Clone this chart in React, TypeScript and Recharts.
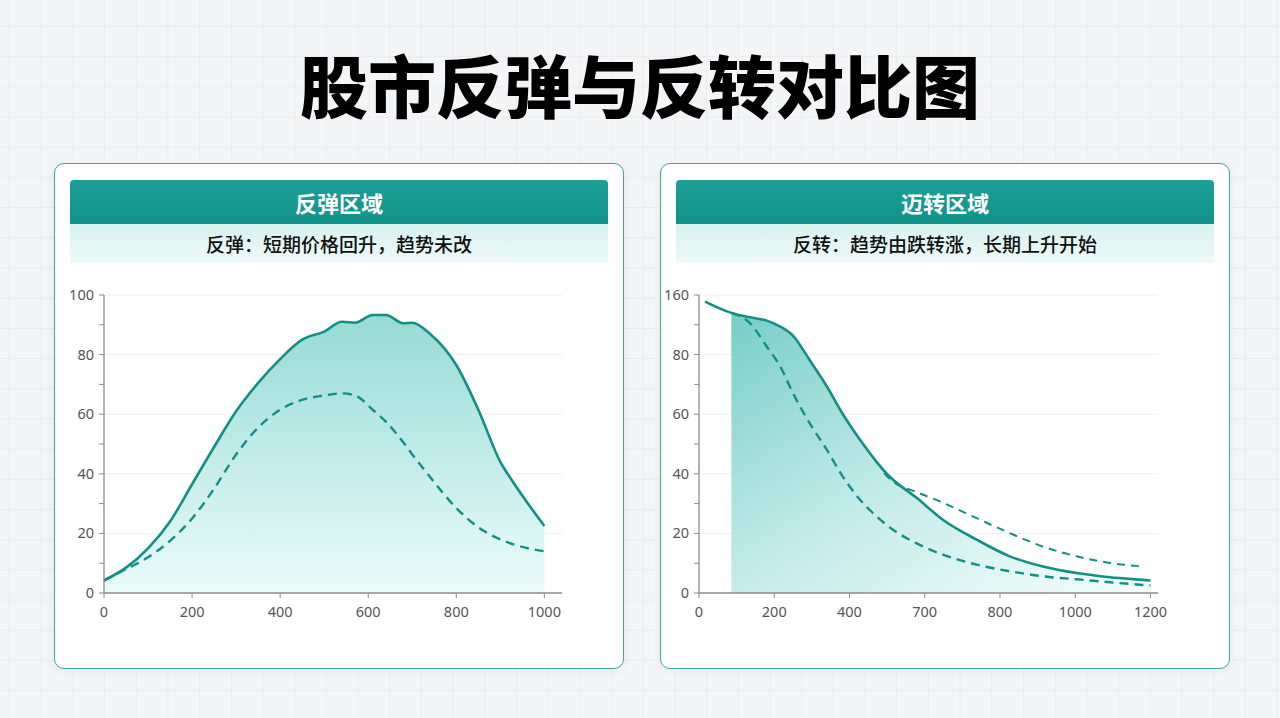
import { ComposedChart, Line, Area, XAxis, YAxis, CartesianGrid } from "recharts"

// 反弹区域 — x 轴 0..1000
const reboundX = [0, 50, 100, 150, 200, 250, 300, 350, 400, 450, 500, 540, 570, 610, 640, 680, 700, 740, 800, 850, 900, 930, 1000]
const reboundPrice = [4.2, 8.5, 15, 24, 36.5, 49, 61, 70.5, 78.5, 85, 87.7, 91, 90.7, 93.3, 93.3, 90.5, 90.7, 87, 76.5, 61.5, 44, 37, 22.5]
const reboundTrend = [4.2, 8, 12, 17.5, 25, 35, 46.5, 55.5, 61.5, 64.8, 66.3, 67, 66.3, 61.5, 57.5, 50.5, 46.5, 39, 28.5, 22, 18, 16.3, 14]
const reboundXTicks = [0, 200, 400, 600, 800, 1000]

// 迈转区域 — x 轴刻度等距排列，数值按刻度序号记录
const reversalX = [0.08, 0.43, 0.68, 0.9, 1.08, 1.25, 1.47, 1.7, 1.9, 2.14, 2.36, 2.46, 2.58, 2.88, 3.25, 3.69, 4.13, 4.57, 5.02, 5.46, 5.9, 6.0]
const reversalPrice = [97.8, 94, 92.5, 91.4, 89.4, 86.3, 78.2, 69.3, 60.5, 51.4, 44, 41, 38, 32.2, 24.4, 17.9, 12.3, 8.9, 6.7, 5.3, 4.4, 4.2]
const reversalFastDrop = [null, 94, 90.5, 82.7, 76, 67, 57, 48, 39.5, 31.3, 25.7, 23.5, 21.2, 16.8, 12.8, 9.5, 7.3, 5.6, 4.6, 3.6, 2.7, 2.5]
const reversalSlowDecay = [null, null, null, null, null, null, null, null, null, null, null, 40.2, 37.3, 34, 30.2, 25.1, 20.1, 15.6, 12.3, 10.1, 8.9, null]
const reversalFillFrom = 0.43
const reversalXLabels = ["0", "200", "400", "700", "800", "1000", "1200"]

const yTicks = [0, 10, 20, 30, 40, 50, 60, 70, 80, 90, 100]
const yGrid = [0, 20, 40, 60, 80, 100]
const reboundYLabels: Record<number, string> = { 0: "0", 20: "20", 40: "40", 60: "60", 80: "80", 100: "100" }
const reversalYLabels: Record<number, string> = { 0: "0", 20: "20", 40: "40", 60: "60", 80: "80", 100: "160" }

const TEAL = "#148f86"
const AXIS = "#8c8c8c"
const LABEL = "#555"
const FONT = "'Noto Sans', 'Noto Sans CJK SC', sans-serif"
const CJK = "'Noto Sans CJK SC', 'Noto Sans', sans-serif"

const reboundData = reboundX.map((x, i) => ({ x, price: reboundPrice[i], trend: reboundTrend[i] }))
const reversalData = reversalX.map((x, i) => ({
  x,
  price: reversalPrice[i],
  fast: reversalFastDrop[i],
  slow: reversalSlowDecay[i],
  fill: x >= reversalFillFrom ? reversalPrice[i] : null,
}))

const YTick = ({ x, y, payload, labels }: any) => {
  const text = labels[payload.value]
  if (text === undefined) return null
  return (
    <text x={x} y={y} dy={5} textAnchor="end" fill={LABEL} fontSize={14.5} fontFamily={FONT}>
      {text}
    </text>
  )
}

function Panel({ left, title, subtitle }: { left: number; title: string; subtitle: string }) {
  return (
    <div
      style={{
        position: "absolute",
        left,
        top: 163,
        width: 568,
        height: 504,
        border: "1.5px solid #3ea79e",
        borderRadius: 10,
        background: "#fff",
        boxShadow: "0 2px 10px rgba(0,0,0,0.06)",
      }}
    >
      <div
        style={{
          position: "absolute",
          left: 15,
          top: 16,
          width: 538,
          height: 44,
          background: "linear-gradient(#1c9f96, #12938a)",
          borderRadius: "4px 4px 0 0",
          color: "#fff",
          fontFamily: CJK,
          fontWeight: 700,
          fontSize: 22,
          lineHeight: "44px",
          textAlign: "center",
        }}
      >
        {title}
      </div>
      <div
        style={{
          position: "absolute",
          left: 15,
          top: 60,
          width: 538,
          height: 39,
          background: "linear-gradient(#d6f2ef, #eefaf9)",
          color: "#111",
          fontFamily: CJK,
          fontWeight: 500,
          fontSize: 19,
          lineHeight: "39px",
          textAlign: "center",
        }}
      >
        {subtitle}
      </div>
    </div>
  )
}

export default function App() {
  return (
    <div
      style={{
        position: "absolute",
        left: 0,
        top: 0,
        width: 1280,
        height: 718,
        overflow: "hidden",
        backgroundColor: "#f4f5f6",
        backgroundImage:
          "linear-gradient(#e9ebec 1px, transparent 1px), linear-gradient(90deg, #e9ebec 1px, transparent 1px)",
        backgroundSize: "31.7px 30.2px",
        backgroundPosition: "9px 26px",
      }}
    >
      <div
        style={{
          position: "absolute",
          left: 0,
          top: 49,
          width: 1280,
          textAlign: "center",
          fontFamily: CJK,
          fontWeight: 900,
          fontSize: 68,
          lineHeight: "70px",
          color: "#000",
        }}
      >
        股市反弹与反转对比图
      </div>

      <Panel left={54} title="反弹区域" subtitle="反弹：短期价格回升，趋势未改" />
      <Panel left={660} title="迈转区域" subtitle="反转：趋势由跌转涨，长期上升开始" />

      <div style={{ position: "absolute", left: 60, top: 280 }}>
        <ComposedChart width={520} height={348} data={reboundData} margin={{ top: 15, right: 18, bottom: 5, left: 0 }}>
          <defs>
            <linearGradient id="reboundFill" x1="0" y1="0" x2="0" y2="1">
              <stop offset="0%" stopColor="#8fd9d3" stopOpacity={0.95} />
              <stop offset="100%" stopColor="#e9fbfa" stopOpacity={0.9} />
            </linearGradient>
          </defs>
          <CartesianGrid horizontal vertical={false} horizontalValues={yGrid} stroke="#eef0f0" />
          <XAxis
            dataKey="x"
            type="number"
            domain={[0, 1040]}
            ticks={reboundXTicks}
            tickSize={5}
            tickMargin={9}
            height={30}
            stroke={AXIS}
            tick={{ fill: LABEL, fontSize: 14.5, fontFamily: FONT }}
            axisLine={{ stroke: AXIS, strokeWidth: 1.3 }}
          />
          <YAxis
            type="number"
            domain={[0, 100]}
            ticks={yTicks}
            interval={0}
            width={44}
            tickSize={5}
            tickMargin={5}
            stroke={AXIS}
            axisLine={{ stroke: AXIS, strokeWidth: 1.3 }}
            tick={<YTick labels={reboundYLabels} />}
          />
          <Area
            dataKey="price"
            type="monotone"
            stroke="none"
            fill="url(#reboundFill)"
            fillOpacity={1}
            isAnimationActive={false}
          />
          <Line dataKey="trend" type="monotone" stroke={TEAL} strokeWidth={2.4} strokeDasharray="9 6" dot={false} isAnimationActive={false} />
          <Line dataKey="price" type="monotone" stroke={TEAL} strokeWidth={2.6} dot={false} isAnimationActive={false} />
        </ComposedChart>
      </div>

      <div style={{ position: "absolute", left: 655, top: 280 }}>
        <ComposedChart width={521} height={348} data={reversalData} margin={{ top: 15, right: 18, bottom: 5, left: 0 }}>
          <defs>
            <linearGradient id="reversalFill" x1="0" y1="0" x2="0.9" y2="1">
              <stop offset="0%" stopColor="#6fcbc4" stopOpacity={0.95} />
              <stop offset="55%" stopColor="#bfeae7" stopOpacity={0.9} />
              <stop offset="100%" stopColor="#f0fcfb" stopOpacity={0.9} />
            </linearGradient>
          </defs>
          <CartesianGrid horizontal vertical={false} horizontalValues={yGrid} stroke="#eef0f0" />
          <XAxis
            dataKey="x"
            type="number"
            domain={[0, 6.1]}
            ticks={[0, 1, 2, 3, 4, 5, 6]}
            tickFormatter={(i: number) => reversalXLabels[i]}
            tickSize={5}
            tickMargin={9}
            height={30}
            stroke={AXIS}
            tick={{ fill: LABEL, fontSize: 14.5, fontFamily: FONT }}
            axisLine={{ stroke: AXIS, strokeWidth: 1.3 }}
          />
          <YAxis
            type="number"
            domain={[0, 100]}
            ticks={yTicks}
            interval={0}
            width={44}
            tickSize={5}
            tickMargin={5}
            stroke={AXIS}
            axisLine={{ stroke: AXIS, strokeWidth: 1.3 }}
            tick={<YTick labels={reversalYLabels} />}
          />
          <Area
            dataKey="fill"
            type="monotone"
            stroke="none"
            fill="url(#reversalFill)"
            fillOpacity={1}
            isAnimationActive={false}
          />
          <Line dataKey="fast" type="monotone" stroke={TEAL} strokeWidth={2.4} strokeDasharray="9 6" dot={false} isAnimationActive={false} />
          <Line dataKey="slow" type="monotone" stroke={TEAL} strokeWidth={2} strokeDasharray="8 6" dot={false} isAnimationActive={false} />
          <Line dataKey="price" type="monotone" stroke={TEAL} strokeWidth={2.6} dot={false} isAnimationActive={false} />
        </ComposedChart>
      </div>
    </div>
  )
}
